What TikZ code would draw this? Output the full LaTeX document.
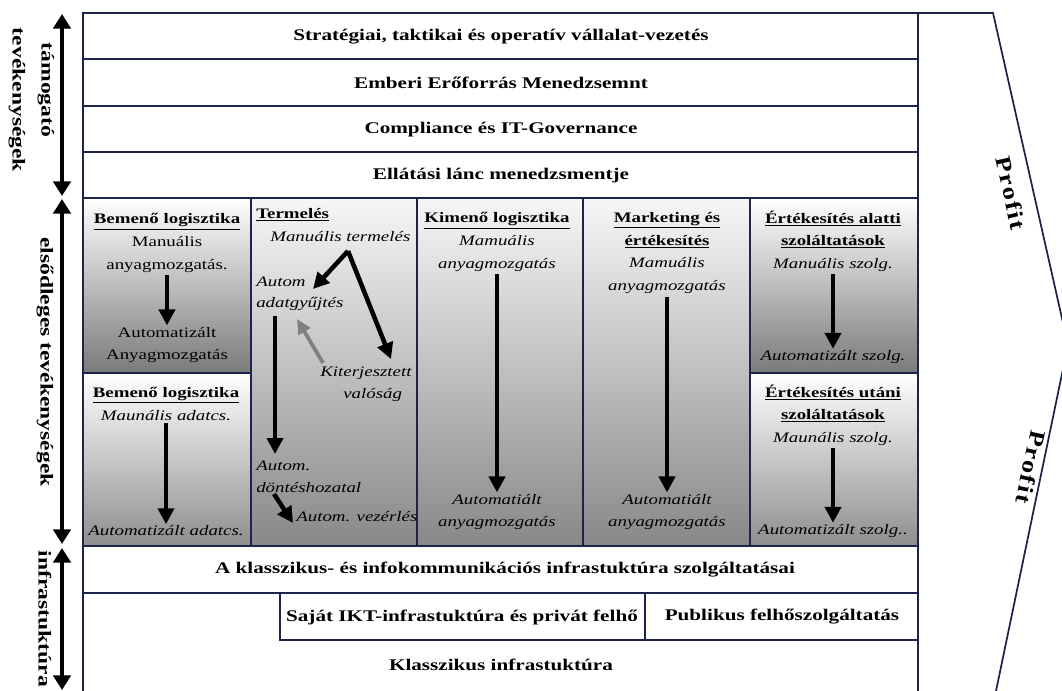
\documentclass[tikz,border=0pt]{standalone}
\usepackage{fontspec}
\setmainfont{Liberation Serif}[FakeStretch=1.3]
\newfontfamily\profitfont{Liberation Serif}[FakeStretch=1.2,LetterSpace=8]
\usetikzlibrary{arrows.meta}

\definecolor{rule}{RGB}{28,36,78}
\definecolor{shadeA}{RGB}{122,122,122}
\definecolor{shadeB}{RGB}{142,142,142}
\definecolor{shadeC}{RGB}{136,136,136}
\definecolor{shadeTop}{RGB}{246,246,246}
\definecolor{hintgray}{RGB}{128,128,128}

\newcommand\cellhead[1]{{\bfseries\upshape\underline{#1}}}

\begin{document}
\begin{tikzpicture}[x=0.75pt,y=-0.75pt,
  grid/.style={draw=rule,line width=1.5pt},
  rowlabel/.style={font=\fontsize{12.2}{14}\selectfont\bfseries,inner sep=1pt},
  cell/.style={align=center,inner sep=0pt,font=\fontsize{10.9}{17}\selectfont},
  celli/.style={align=center,inner sep=0pt,font=\fontsize{10.9}{17}\selectfont\itshape},
  note/.style={inner sep=0pt,anchor=west,font=\fontsize{10.9}{17}\selectfont\itshape},
  tip/.style={-{Triangle[width=12pt,length=12pt]}},
  flow/.style={line width=3.4pt,tip,shorten <=2pt,shorten >=1pt},
  fork/.style={line width=3.4pt,tip},
  hint/.style={draw=hintgray,line width=2.8pt,-{Triangle[width=10pt,length=11pt]}},
  span/.style={line width=3.4pt,{Triangle[width=13pt,length=11pt]}-{Triangle[width=13pt,length=11pt]}},
  sidelabel/.style={rotate=-90,inner sep=0pt,font=\fontsize{13.6}{17}\selectfont\bfseries},
  profit/.style={inner sep=1pt,font=\profitfont\fontsize{16.5}{20}\selectfont\bfseries},
]
\useasboundingbox (0,0) rectangle (1062,691);
\clip (0,0) rectangle (1062,691);

% ---- shaded cells of the primary activities
\fill[top color=white,middle color=white,bottom color=shadeA] (83,198) rectangle (251,373);
\fill[top color=white,middle color=white,bottom color=shadeB] (83,373) rectangle (251,546);
\fill[top color=shadeTop,bottom color=shadeC] (251,198) rectangle (417,546);
\fill[top color=shadeTop,bottom color=shadeC] (417,198) rectangle (583,546);
\fill[top color=shadeTop,bottom color=shadeC] (583,198) rectangle (750,546);
\fill[top color=white,middle color=white,bottom color=shadeA] (750,198) rectangle (918,373);
\fill[top color=white,middle color=white,bottom color=shadeB] (750,373) rectangle (918,546);

% ---- grid lines
\draw[grid] (83,691) -- (83,13) -- (918,13) -- (918,691);
\foreach \yy in {59,106,152,198,546,593} \draw[grid] (83,\yy) -- (918,\yy);
\foreach \xx in {251,417,583,750} \draw[grid] (\xx,198) -- (\xx,546);
\draw[grid] (83,373) -- (251,373);
\draw[grid] (750,373) -- (918,373);
\draw[grid] (280,593) -- (280,640) -- (918,640);
\draw[grid] (645,593) -- (645,640);

% ---- profit arrow outline
\draw[rule,line width=1.3pt] (918,13) -- (993,13) -- (1068,345) -- (996,691);
\node[profit,rotate=-77] (pf1) at (1011,193) {Profit};
\node[profit,rotate=-102] (pf2) at (1031,467) {Profit};

% ---- support rows
\node[rowlabel] (sv1) at (501,37) {Stratégiai, taktikai és operatív vállalat-vezetés};
\node[rowlabel] (sv2) at (501,83) {Emberi Erőforrás Menedzsemnt};
\node[rowlabel] (sv3) at (501,130) {Compliance és IT-Governance};
\node[rowlabel] (sv4) at (501,176) {Ellátási lánc menedzsmentje};

% ---- infrastructure rows
\node[rowlabel] (in1) at (505,570) {A klasszikus- és infokommunikációs infrastuktúra szolgáltatásai};
\node[rowlabel] (in2) at (462,617) {Saját IKT-infrastuktúra és privát felhő};
\node[rowlabel] (in3) at (782,617) {Publikus felhőszolgáltatás};
\node[rowlabel] (in4) at (501,665) {Klasszikus infrastuktúra};

% ---- side brackets
\coordinate (sa1) at (62,14);
\coordinate (sa2) at (62,196);
\coordinate (sb1) at (62,199);
\coordinate (sb2) at (62,544);
\coordinate (sc1) at (62,548);
\coordinate (sc2) at (62,690);
\draw[span] (sa1) -- (sa2);
\draw[span] (sb1) -- (sb2);
\draw[span] (sc1) -- (sc2);
\node[sidelabel] (lb1) at (46,90) {támogató};
\node[sidelabel] (lb2) at (17,100) {tevékenységek};
\node[sidelabel] (lb3) at (45,362) {elsődleges tevékenységek};
\node[sidelabel] (lb4) at (45,619) {infrastuktúra};

% ---- inbound logistics, materials
\node[cell] (bl1) at (167,243) {\cellhead{Bemenő logisztika}\\Manuális\\anyagmozgatás.};
\node[cell] (bl1b) at (167,345) {Automatizált\\Anyagmozgatás};
\draw[flow] (bl1.south) -- (bl1b.north);

% ---- inbound logistics, data
\node[celli] (bl2) at (166,404) {\cellhead{Bemenő logisztika}\\Maunális adatcs.};
\node[celli] (bl2b) at (166,531) {Automatizált adatcs.};
\draw[flow] (bl2.south) -- (bl2b.north);

% ---- production
\node[note,font=\fontsize{10.9}{17}\selectfont\bfseries] (tm) at (256,215) {\underline{Termelés}};
\node[note] (tm0) at (270,237) {Manuális termelés};
\node[note] (ag1) at (256,282) {Autom};
\node[note] (ag2) at (256,304) {adatgyűjtés};
\node[note] (kt1) at (320,373) {Kiterjesztett};
\node[note] (kt2) at (343,395) {valóság};
\node[note] (dh1) at (256,466) {Autom.};
\node[note] (dh2) at (256,488) {döntéshozatal};
\node[note] (vz) at (296,517) {Autom. vezérlés};
\coordinate (forkpt) at (348,251);
\coordinate (agtip) at (313,289);
\coordinate (kttip) at (391,359);
\coordinate (xrfrom) at (323,363);
\coordinate (xrtip) at (297,319);
\coordinate (dhfrom) at (275,316);
\coordinate (dhtip) at (275,454);
\coordinate (vzfrom) at (274,494);
\coordinate (vztip) at (293,523);
\draw[fork] (forkpt) -- (agtip);
\draw[fork] (forkpt) -- (kttip);
\draw[hint] (xrfrom) -- (xrtip);
\draw[fork] (dhfrom) -- (dhtip);
\draw[fork] (vzfrom) -- (vztip);

% ---- outbound logistics
\node[celli] (km) at (497,242) {\cellhead{Kimenő logisztika}\\Mamuális\\anyagmozgatás};
\node[celli] (kmb) at (497,512) {Automatiált\\anyagmozgatás};
\draw[flow] (km.south) -- (kmb.north);

% ---- marketing and sales
\node[celli] (mk) at (667,253) {\cellhead{Marketing és}\\\cellhead{értékesítés}\\Mamuális\\anyagmozgatás};
\node[celli] (mkb) at (667,512) {Automatiált\\anyagmozgatás};
\draw[flow] (mk.south) -- (mkb.north);

% ---- services during and after sales
\node[celli] (ea) at (833,241) {\cellhead{Értékesítés alatti}\\\cellhead{szoláltatások}\\Manuális szolg.};
\node[celli] (eab) at (833,357) {Automatizált szolg.};
\draw[flow] (ea.south) -- (eab.north);
\node[celli] (eu) at (833,415) {\cellhead{Értékesítés utáni}\\\cellhead{szoláltatások}\\Maunális szolg.};
\node[celli] (eub) at (833,531) {Automatizált szolg..};
\draw[flow] (eu.south) -- (eub.north);

\end{tikzpicture}
\end{document}
